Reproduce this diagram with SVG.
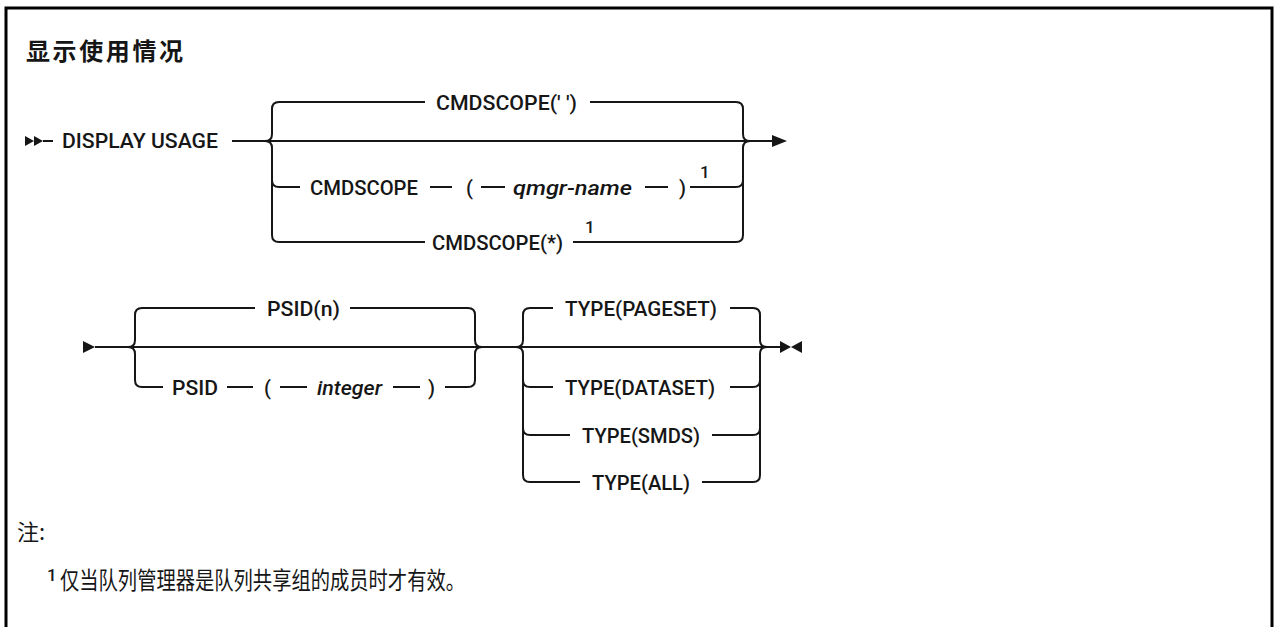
<svg xmlns="http://www.w3.org/2000/svg" width="1274" height="627" viewBox="0 0 1274 627">
<style>
.t{font-family:Roboto,"Liberation Sans",Arial,sans-serif;font-size:20px;font-weight:500;fill:#161616;}
.i{font-style:italic;}
.sup{font-family:Roboto,"Liberation Sans",Arial,sans-serif;font-size:17px;font-weight:500;fill:#161616;}
.cjk{font-family:"Noto Sans CJK SC",sans-serif;fill:#161616;}
.ln{fill:none;stroke:#161616;stroke-width:2;}
.ah{fill:#161616;stroke:none;}
</style>
<rect x="0" y="0" width="1274" height="627" fill="#ffffff"/>
<path d="M6,627 V8 H1272 V627" fill="none" stroke="#000" stroke-width="3"/>
<g id="title"><text class="cjk" x="26" y="60" font-size="24" font-weight="bold" textLength="157">显示使用情况</text></g>

<g id="connectors">
  <polygon class="ah" points="25,136 34,141 25,146"/>
  <polygon class="ah" points="34,136 43,141 34,146"/>
  <line class="ln" x1="43" y1="141" x2="53" y2="141"/>
  <line class="ln" x1="232" y1="141" x2="772" y2="141"/>
  <polygon class="ah" points="772,135 787,141 772,147"/>
  <path class="ln" d="M265,141 Q272,141 272,134 V109 Q272,102 279,102 H425"/>
  <path class="ln" d="M265,141 Q272,141 272,148 V235 Q272,242 279,242 H425"/>
  <path class="ln" d="M272,180 Q272,187 279,187 H300"/>
  <path class="ln" d="M590,102 H736 Q743,102 743,109 V134 Q743,141 750,141"/>
  <path class="ln" d="M573,242 H736 Q743,242 743,235 V148 Q743,141 750,141"/>
  <path class="ln" d="M690,187 H736 Q743,187 743,180"/>
  <line class="ln" x1="430" y1="187" x2="452" y2="187"/>
  <line class="ln" x1="481" y1="187" x2="505" y2="187"/>
  <line class="ln" x1="645" y1="187" x2="668" y2="187"/>
  <polygon class="ah" points="83,341 95,347 83,353"/>
  <line class="ln" x1="95" y1="347" x2="780" y2="347"/>
  <path class="ln" d="M128,347 Q135,347 135,340 V315 Q135,308 142,308 H255"/>
  <path class="ln" d="M128,347 Q135,347 135,354 V380 Q135,387 142,387 H163"/>
  <path class="ln" d="M350,308 H468 Q475,308 475,315 V340 Q475,347 482,347"/>
  <path class="ln" d="M445,387 H468 Q475,387 475,380 V354 Q475,347 482,347"/>
  <line class="ln" x1="227" y1="387" x2="253" y2="387"/>
  <line class="ln" x1="280" y1="387" x2="307" y2="387"/>
  <line class="ln" x1="393" y1="387" x2="420" y2="387"/>
  <path class="ln" d="M516,347 Q523,347 523,340 V315 Q523,308 530,308 H553"/>
  <path class="ln" d="M516,347 Q523,347 523,354 V475 Q523,482 530,482 H580"/>
  <path class="ln" d="M523,380 Q523,387 530,387 H553"/>
  <path class="ln" d="M523,428 Q523,435 530,435 H570"/>
  <path class="ln" d="M730,308 H753 Q760,308 760,315 V340 Q760,347 767,347"/>
  <path class="ln" d="M702,482 H753 Q760,482 760,475 V354 Q760,347 767,347"/>
  <path class="ln" d="M730,387 H753 Q760,387 760,380"/>
  <path class="ln" d="M712,435 H753 Q760,435 760,428"/>
  <polygon class="ah" points="780,341 791,347 780,353"/>
  <polygon class="ah" points="802,341 791,347 802,353"/>
</g>

<g id="n-display"><text class="t" x="62" y="148" font-size="21" textLength="156" lengthAdjust="spacingAndGlyphs">DISPLAY USAGE</text></g>
<g id="n-cmdscope-blank"><text class="t" x="436" y="110" textLength="141" lengthAdjust="spacingAndGlyphs">CMDSCOPE(' ')</text></g>
<g id="n-cmdscope-qmgr">
  <text class="t" x="310" y="195" textLength="108" lengthAdjust="spacingAndGlyphs">CMDSCOPE</text>
  <text class="t" x="466" y="195">(</text>
  <text class="t i" x="513" y="195" textLength="119" lengthAdjust="spacingAndGlyphs">qmgr-name</text>
  <text class="t" x="679" y="195">)</text>
  <text class="sup" x="700" y="178">1</text>
</g>
<g id="n-cmdscope-star">
  <text class="t" x="432" y="250" textLength="131" lengthAdjust="spacingAndGlyphs">CMDSCOPE(*)</text>
  <text class="sup" x="585" y="233">1</text>
</g>
<g id="n-psid-n"><text class="t" x="267" y="316" textLength="73" lengthAdjust="spacingAndGlyphs">PSID(n)</text></g>
<g id="n-psid-int">
  <text class="t" x="172" y="395" textLength="46" lengthAdjust="spacingAndGlyphs">PSID</text>
  <text class="t" x="264" y="395">(</text>
  <text class="t i" x="317" y="395" textLength="65" lengthAdjust="spacingAndGlyphs">integer</text>
  <text class="t" x="428" y="395">)</text>
</g>
<g id="n-type-pageset"><text class="t" x="565" y="316" textLength="152" lengthAdjust="spacingAndGlyphs">TYPE(PAGESET)</text></g>
<g id="n-type-dataset"><text class="t" x="565" y="395" textLength="150" lengthAdjust="spacingAndGlyphs">TYPE(DATASET)</text></g>
<g id="n-type-smds"><text class="t" x="582" y="443" textLength="118" lengthAdjust="spacingAndGlyphs">TYPE(SMDS)</text></g>
<g id="n-type-all"><text class="t" x="592" y="490" textLength="98" lengthAdjust="spacingAndGlyphs">TYPE(ALL)</text></g>

<g id="notes">
  <text class="cjk" x="17" y="540" font-size="22">注:</text>
  <text class="sup" x="47" y="581" font-weight="normal" font-size="16">1</text>
  <text class="cjk" x="60" y="589" font-size="24" textLength="405" lengthAdjust="spacingAndGlyphs">仅当队列管理器是队列共享组的成员时才有效。</text>
</g>
</svg>
